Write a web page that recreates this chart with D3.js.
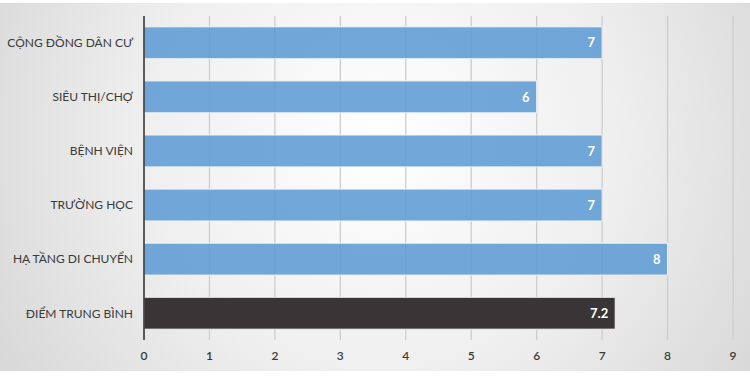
<!DOCTYPE html>
<html>
<head>
<meta charset="utf-8">
<script src="https://cdn.jsdelivr.net/npm/d3@7"></script>
<style>
  body { margin: 0; background: #fff; }
  svg { display: block; }
</style>
</head>
<body>
<div id="chart"></div>
<script>
var categories = ["CỘNG ĐỒNG DÂN CƯ", "SIÊU THỊ/CHỢ", "BỆNH VIỆN", "TRƯỜNG HỌC", "HẠ TẦNG DI CHUYỂN", "ĐIỂM TRUNG BÌNH"]
var values = [7, 6, 7, 7, 8, 7.2]
var valueLabels = ["7", "6", "7", "7", "8", "7.2"]
var xTicks = [0, 1, 2, 3, 4, 5, 6, 7, 8, 9]

var W = 750, H = 377
var margin = { top: 16, right: 17, bottom: 37, left: 144 }
var width = W - margin.left - margin.right
var height = H - margin.top - margin.bottom

var svg = d3.select("#chart").append("svg")
    .attr("width", W)
    .attr("height", H)

var defs = svg.append("defs")
var grad = defs.append("radialGradient")
    .attr("id", "bg")
    .attr("gradientUnits", "userSpaceOnUse")
    .attr("cx", 380).attr("cy", 140).attr("r", 520)
grad.append("stop").attr("offset", "0%").attr("stop-color", "#ffffff")
grad.append("stop").attr("offset", "45%").attr("stop-color", "#efefef")
grad.append("stop").attr("offset", "100%").attr("stop-color", "#cfcfcf")

// background panel
svg.append("rect")
    .attr("x", 0).attr("y", 3)
    .attr("width", W).attr("height", 368)
    .attr("fill", "url(#bg)")

var x = d3.scaleLinear()
    .domain([0, 9])
    .range([0, width])

var y = d3.scaleBand()
    .domain(categories)
    .range([0, height])
    .paddingInner(0.41)
    .paddingOuter(0.2)

var g = svg.append("g")
    .attr("transform", "translate(" + margin.left + "," + margin.top + ")")

// gridlines
g.selectAll(".grid")
    .data(xTicks.slice(1))
  .enter().append("line")
    .attr("class", "grid")
    .attr("x1", function(d) { return x(d) })
    .attr("x2", function(d) { return x(d) })
    .attr("y1", 0)
    .attr("y2", height)
    .attr("stroke", "#cdcdcd")
    .attr("stroke-width", 1.3)

// bars
g.selectAll(".bar")
    .data(values)
  .enter().append("rect")
    .attr("class", "bar")
    .attr("x", 0)
    .attr("y", function(d, i) { return y(categories[i]) })
    .attr("width", function(d) { return x(d) })
    .attr("height", y.bandwidth())
    .attr("fill", function(d, i) { return i == values.length - 1 ? "#393536" : "#5e9bd5" })
    .attr("fill-opacity", function(d, i) { return i == values.length - 1 ? 1 : 0.88 })
    .attr("stroke", "#f4f4f4")
    .attr("stroke-width", 1)

// value labels
g.selectAll(".val")
    .data(values)
  .enter().append("text")
    .attr("class", "val")
    .attr("x", function(d) { return x(d) - 7 })
    .attr("y", function(d, i) { return y(categories[i]) + y.bandwidth() / 2 })
    .attr("dy", "0.36em")
    .attr("text-anchor", "end")
    .attr("fill", "#fff")
    .attr("font-family", "Lato, 'Open Sans', sans-serif")
    .attr("font-weight", "bold")
    .attr("font-size", 13)
    .text(function(d, i) { return valueLabels[i] })

// y axis line
g.append("line")
    .attr("x1", 0).attr("x2", 0)
    .attr("y1", 0).attr("y2", height)
    .attr("stroke", "#2b2b2b")
    .attr("stroke-width", 1.5)

// category labels
g.selectAll(".cat")
    .data(categories)
  .enter().append("text")
    .attr("class", "cat")
    .attr("x", -11)
    .attr("y", function(d) { return y(d) + y.bandwidth() / 2 })
    .attr("dy", "0.36em")
    .attr("text-anchor", "end")
    .attr("fill", "#3a3a3a")
    .attr("font-family", "Lato, 'Open Sans', sans-serif")
    .attr("font-size", 12)
    .text(function(d) { return d })

// x tick labels
g.selectAll(".xt")
    .data(xTicks)
  .enter().append("text")
    .attr("class", "xt")
    .attr("x", function(d) { return x(d) })
    .attr("y", height + 16)
    .attr("dy", "0.36em")
    .attr("text-anchor", "middle")
    .attr("fill", "#3a3a3a")
    .attr("font-family", "Lato, 'Open Sans', sans-serif")
    .attr("font-weight", 600)
    .attr("font-size", 12)
    .text(function(d) { return d })
</script>
</body>
</html>
